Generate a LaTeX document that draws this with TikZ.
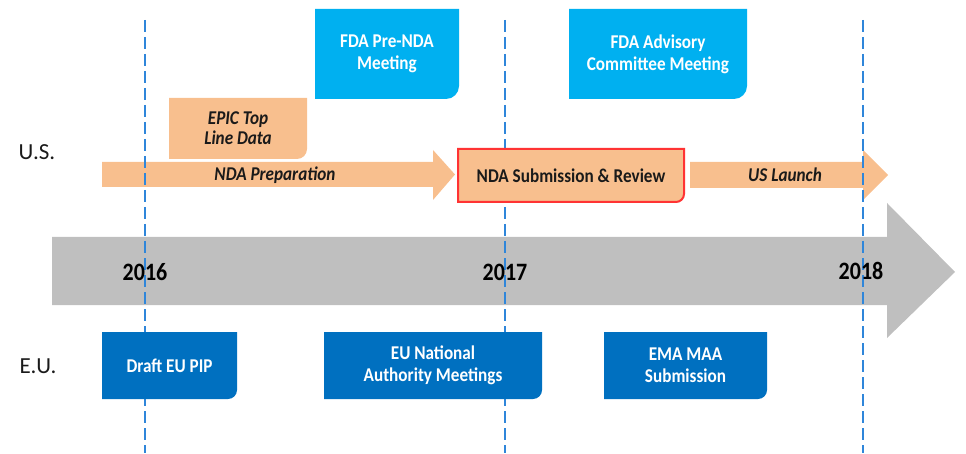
\documentclass[tikz,border=0pt]{standalone}
\usepackage{fontspec}
\setmainfont{Carlito}
\newfontfamily\narrowfont[FakeStretch=0.88]{Carlito}
\definecolor{peach}{HTML}{F8BF8E}
\definecolor{fdacyan}{HTML}{00B0F0}
\definecolor{eublue}{HTML}{0070C0}
\definecolor{axisgray}{HTML}{BFBFBF}
\definecolor{guideblue}{HTML}{2F86DA}
\definecolor{alertred}{HTML}{FF3333}
\definecolor{ink}{HTML}{1A1A1A}
\pgfdeclarelayer{bg}
\pgfdeclarelayer{boxes}
\pgfsetlayers{bg,boxes,main}
\begin{document}
\begin{tikzpicture}[x=1pt,y=1pt,
  boxtext/.style={align=center, inner sep=0pt, outer sep=0pt,
    font=\narrowfont\fontsize{19.5}{22}\selectfont\bfseries},
  darktext/.style={boxtext, text=ink},
  lighttext/.style={boxtext, text=white},
  slanttext/.style={darktext, font=\narrowfont\fontsize{19.5}{20}\selectfont\bfseries\itshape},
  yeartext/.style={font=\narrowfont\fontsize{25}{28}\selectfont\bfseries, text=black},
  regiontext/.style={font=\fontsize{23}{26}\selectfont, text=ink},
  guide/.style={color=guideblue, line width=1.2pt, dash pattern=on 12pt off 5pt}]
\useasboundingbox (0,0) rectangle (966,453);

% year guide end points
\coordinate (g16top) at (145,433); \coordinate (g16bot) at (145,0);
\coordinate (g17top) at (505,433); \coordinate (g17bot) at (505,0);
\coordinate (g18top) at (863,433); \coordinate (g18bot) at (863,0);

% ---- timeline axis, U.S. phase arrows, then the guides over them ----
\begin{pgfonlayer}{bg}
  \fill[axisgray] (52,216) -- (887,216) -- (887,250) -- (955,181)
        -- (887,115) -- (887,148) -- (52,148) -- cycle;
  \fill[peach] (102,291) -- (433,291) -- (433,303) -- (455,278.5)
        -- (433,253) -- (433,266) -- (102,266) -- cycle;
  \fill[peach] (690,291) -- (863,291) -- (863,303) -- (888,278)
        -- (863,253) -- (863,265) -- (690,265) -- cycle;
  \draw[guide] (g16top) -- (g16bot);
  \draw[guide] (g17top) -- (g17bot);
  \draw[guide] (g18top) -- (g18bot);
\end{pgfonlayer}

\node[yeartext] (y16) at (145,181) {2016};
\node[yeartext] (y17) at (505,181) {2017};
\node[yeartext] (y18) at (861,182) {2018};

% ---- region labels ----
\node[regiontext] (us) at (37,301) {U.S.};
\node[regiontext] (eu) at (38,87) {E.U.};

% ---- arrow captions ----
\node[slanttext] (prep) at (275,278) {NDA Preparation};
\node[slanttext] (launch) at (785,278) {US Launch};

% ---- milestone boxes ----
\node[lighttext, minimum width=144pt, minimum height=90pt] (prenda) at (387,399) {FDA Pre-NDA\\Meeting};
\node[lighttext, minimum width=178pt, minimum height=90pt] (adcom) at (658,399) {FDA Advisory\\Committee Meeting};
\node[slanttext, minimum width=138pt, minimum height=61pt] (epic) at (238,324.5) {EPIC Top\\Line Data};
\node[darktext, minimum width=226pt, minimum height=53pt] (ndasub) at (571,277.5) {NDA Submission \& Review};
\node[lighttext, minimum width=135pt, minimum height=67pt] (pip) at (169.5,87.5) {Draft EU PIP};
\node[lighttext, minimum width=218pt, minimum height=67pt] (nat) at (433,87.5) {EU National\\Authority Meetings};
\node[lighttext, minimum width=163pt, minimum height=67pt] (maa) at (685.5,87.5) {EMA MAA\\Submission};

% box backgrounds: square corners except the lower right one
\begin{pgfonlayer}{boxes}
  \foreach \n/\c/\r in {prenda/fdacyan/13, adcom/fdacyan/13, epic/peach/10,
                         pip/eublue/9, nat/eublue/9, maa/eublue/9}{
    \fill[\c] (\n.north west) -- (\n.north east) -- ([yshift=\r pt]\n.south east)
      arc[start angle=0, end angle=-90, radius=\r pt] -- (\n.south west) -- cycle;
  }
  \filldraw[fill=peach, draw=alertred, line width=2pt]
    (ndasub.north west) -- (ndasub.north east) -- ([yshift=8pt]ndasub.south east)
    arc[start angle=0, end angle=-90, radius=8pt] -- (ndasub.south west) -- cycle;
\end{pgfonlayer}
\end{tikzpicture}
\end{document}
